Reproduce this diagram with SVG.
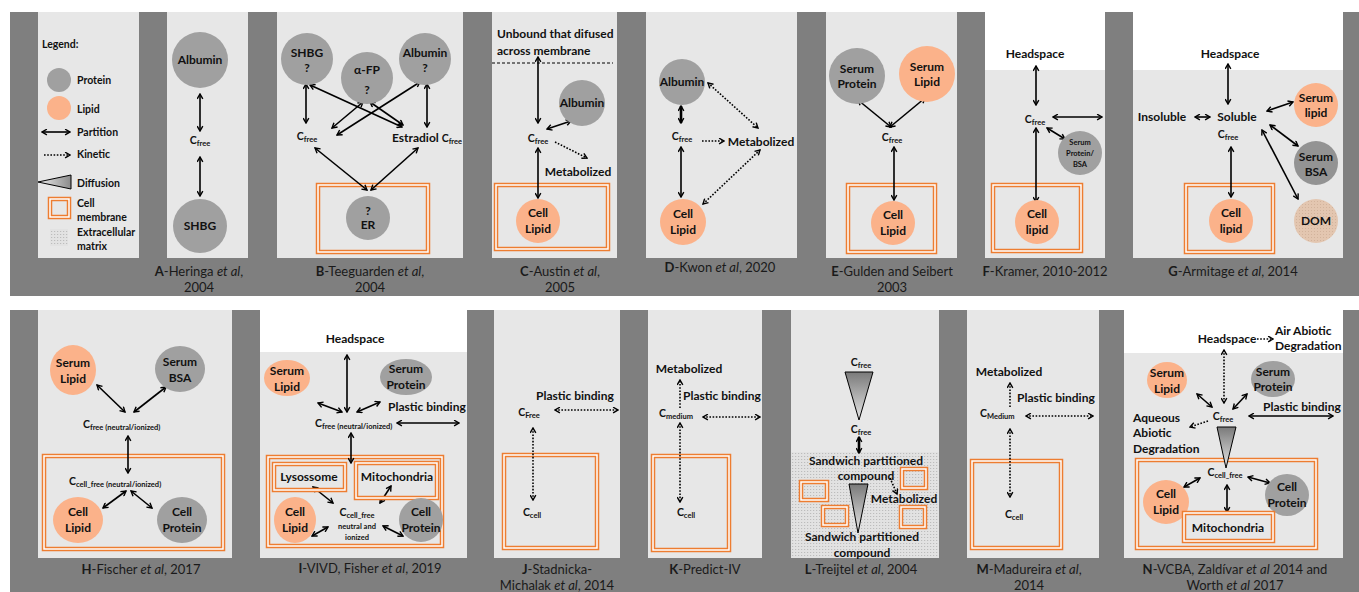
<svg xmlns="http://www.w3.org/2000/svg" width="1359" height="592" viewBox="0 0 1359 592">
<style>
.bg{fill:#7f7f7f}
.pn{fill:#e7e7e7}
.ws{fill:#fff}
.pr{fill:#a0a0a0}
.pd{fill:#939393}
.li{fill:#fbb28a}
.mo{fill:none;stroke:#ed7d31;stroke-width:4.5}
.mi{fill:none;stroke:#fff;stroke-width:1.5}
.a{stroke:#000;stroke-width:1.6;fill:none;marker-start:url(#ah);marker-end:url(#ah)}
.a1{stroke:#000;stroke-width:1.6;fill:none;marker-end:url(#ah)}
.d{stroke-dasharray:1.6 1.6}
.tk{stroke-width:2.6}
text{font-family:Lato,"Liberation Sans",sans-serif}
.t{font-weight:bold;font-size:12px;fill:#111;text-anchor:middle}
.sm{font-size:7.5px}
.lg{font-weight:bold;font-size:10.5px;fill:#111}
.cap{font-size:13px;fill:#1a1a1a;text-anchor:middle}
.c{font-weight:bold;font-size:10.5px;fill:#111;text-anchor:middle}
.sub{font-size:7.5px}
.s{text-anchor:start}
.tri{stroke:#000;stroke-width:1}
</style>
<defs>
<marker id="ah" viewBox="0 0 10 10" refX="8.5" refY="5" markerWidth="7" markerHeight="7" markerUnits="userSpaceOnUse" orient="auto-start-reverse">
<path d="M1.5,1 L8.5,5 L1.5,9" fill="none" stroke="#000" stroke-width="2"/>
</marker>
<linearGradient id="gv" x1="0" y1="0" x2="0" y2="1"><stop offset="0" stop-color="#7a7a7a"/><stop offset="1" stop-color="#e6e6e6"/></linearGradient>
<linearGradient id="gh" x1="1" y1="0" x2="0" y2="0"><stop offset="0" stop-color="#8a8a8a"/><stop offset="1" stop-color="#eeeeee"/></linearGradient>
<pattern id="ecm" width="3" height="3" patternUnits="userSpaceOnUse"><rect width="3" height="3" fill="#e2e2e2"/><rect width="1.2" height="1" fill="#bcbcbc"/></pattern>
<pattern id="dom" width="3" height="3" patternUnits="userSpaceOnUse"><rect width="3" height="3" fill="#e3c6b0"/><rect width="1" height="1" fill="#d2b39c"/></pattern>
</defs>

<g id="backgrounds">
<rect class="bg" x="10" y="12" width="1349" height="284"/>
<rect class="bg" x="10" y="310" width="1349" height="282"/>
<rect class="pn" x="38" y="12" width="101" height="246"/>
<rect class="pn" x="167" y="12" width="81" height="246"/>
<rect class="pn" x="277" y="12" width="186" height="246"/>
<rect class="pn" x="492" y="12" width="125" height="246"/>
<rect class="pn" x="646" y="12" width="151" height="246"/>
<rect class="pn" x="826" y="12" width="131" height="246"/>
<rect class="pn" x="985" y="12" width="120" height="246"/>
<rect class="ws" x="985" y="12" width="120" height="58"/>
<rect class="pn" x="1133" y="12" width="210" height="246"/>
<rect class="ws" x="1133" y="12" width="210" height="58"/>
<rect class="pn" x="38" y="310" width="194" height="248"/>
<rect class="pn" x="260" y="310" width="207" height="248"/>
<rect class="ws" x="260" y="310" width="207" height="42"/>
<rect class="pn" x="494" y="310" width="126" height="248"/>
<rect class="pn" x="648" y="310" width="114" height="248"/>
<rect class="pn" x="791" y="310" width="148" height="248"/>
<rect x="791" y="452" width="148" height="106" fill="url(#ecm)"/>
<rect class="pn" x="967" y="310" width="132" height="248"/>
<rect class="pn" x="1124" y="310" width="219" height="248"/>
<rect class="ws" x="1124" y="310" width="219" height="43"/>
</g>

<g id="legend">
<text class="lg" x="42" y="48">Legend:</text>
<circle class="pr" cx="59" cy="80" r="12"/><text class="lg" x="77" y="84">Protein</text>
<circle class="li" cx="59" cy="108" r="12"/><text class="lg" x="77" y="113">Lipid</text>
<line class="a" x1="42" y1="132" x2="70" y2="132"/><text class="lg" x="77" y="136">Partition</text>
<line class="a1 d" x1="44" y1="155" x2="70" y2="155"/><text class="lg" x="77" y="158">Kinetic</text>
<polygon class="tri" points="38,182 71,175 71,189" fill="url(#gh)"/><text class="lg" x="77" y="187">Diffusion</text>
<rect class="mo" x="50" y="199" width="19" height="18"/><rect class="mi" x="50" y="199" width="19" height="18"/>
<text class="lg" x="77" y="207">Cell</text><text class="lg" x="77" y="221">membrane</text>
<rect x="50" y="229" width="18" height="17" fill="url(#ecm)"/>
<text class="lg" x="77" y="236">Extracellular</text><text class="lg" x="77" y="250">matrix</text>
</g>

<g id="membranes">
<rect class="mo" x="318" y="185" width="110" height="67"/><rect class="mi" x="318" y="185" width="110" height="67"/>
<rect class="mo" x="496" y="185" width="112" height="64"/><rect class="mi" x="496" y="185" width="112" height="64"/>
<rect class="mo" x="848" y="185" width="87" height="67"/><rect class="mi" x="848" y="185" width="87" height="67"/>
<rect class="mo" x="993" y="185" width="88" height="66"/><rect class="mi" x="993" y="185" width="88" height="66"/>
<rect class="mo" x="1186" y="185" width="87" height="67"/><rect class="mi" x="1186" y="185" width="87" height="67"/>
<rect class="mo" x="44" y="456" width="179" height="93"/><rect class="mi" x="44" y="456" width="179" height="93"/>
<rect class="mo" x="268" y="457" width="174" height="89"/><rect class="mi" x="268" y="457" width="174" height="89"/>
<rect class="mo" x="504" y="455" width="93" height="93"/><rect class="mi" x="504" y="455" width="93" height="93"/>
<rect class="mo" x="653" y="456" width="76" height="94"/><rect class="mi" x="653" y="456" width="76" height="94"/>
<rect class="mo" x="801" y="482" width="26" height="18"/><rect class="mi" x="801" y="482" width="26" height="18"/>
<rect class="mo" x="823" y="507" width="24" height="18"/><rect class="mi" x="823" y="507" width="24" height="18"/>
<rect class="mo" x="902" y="469" width="24" height="19"/><rect class="mi" x="902" y="469" width="24" height="19"/>
<rect class="mo" x="901" y="507" width="24" height="20"/><rect class="mi" x="901" y="507" width="24" height="20"/>
<rect class="mo" x="972" y="461" width="89" height="87"/><rect class="mi" x="972" y="461" width="89" height="87"/>
<rect class="mo" x="1137" y="460" width="179" height="88"/><rect class="mi" x="1137" y="460" width="179" height="88"/>
</g>

<g id="connectors">
<line class="a" x1="200" y1="94" x2="200" y2="131"/>
<line class="a" x1="200" y1="157" x2="200" y2="196"/>
<line class="a" x1="306" y1="84" x2="306" y2="123"/>
<line class="a" x1="310" y1="85" x2="402" y2="127"/>
<line class="a" x1="363" y1="102" x2="332" y2="128"/>
<line class="a" x1="420" y1="82" x2="337" y2="135"/>
<line class="a" x1="370" y1="102" x2="403" y2="125"/>
<line class="a" x1="427" y1="84" x2="427" y2="127"/>
<line class="a" x1="315" y1="148" x2="367" y2="190"/>
<line class="a" x1="418" y1="148" x2="371" y2="190"/>
<line stroke="#000" stroke-width="1" stroke-dasharray="3 2" x1="492" y1="63" x2="613" y2="63"/>
<line class="a" x1="538" y1="57" x2="538" y2="123"/>
<line class="a" x1="547" y1="129" x2="571" y2="121"/>
<line class="a1 d" x1="555" y1="142" x2="587" y2="158"/>
<line class="a" x1="538" y1="148" x2="538" y2="198"/>
<line class="a tk" x1="681" y1="106" x2="681" y2="123"/>
<line class="a d" x1="708" y1="83" x2="758" y2="128"/>
<line class="a1 d" x1="702" y1="141" x2="724" y2="141"/>
<line class="a d" x1="760" y1="150" x2="703" y2="204"/>
<line class="a" x1="681" y1="147" x2="681" y2="197"/>
<line class="a" x1="858" y1="100" x2="891" y2="127"/>
<line class="a" x1="925" y1="98" x2="890" y2="127"/>
<line class="a" x1="894" y1="147" x2="894" y2="200"/>
<line class="a" x1="1036" y1="66" x2="1036" y2="105"/>
<line class="a" x1="1053" y1="117" x2="1102" y2="117"/>
<line class="a" x1="1047" y1="128" x2="1065" y2="139"/>
<line class="a" x1="1036" y1="128" x2="1036" y2="202"/>
<line class="a" x1="1228" y1="64" x2="1228" y2="104"/>
<line class="a" x1="1195" y1="117" x2="1210" y2="117"/>
<line class="a" x1="1267" y1="111" x2="1293" y2="102"/>
<line class="a" x1="1270" y1="125" x2="1298" y2="146"/>
<line class="a" x1="1262" y1="130" x2="1298" y2="199"/>
<line class="a" x1="1231" y1="147" x2="1231" y2="197"/>
<line class="a" x1="97" y1="385" x2="125" y2="412"/>
<line class="a" x1="166" y1="387" x2="134" y2="412"/>
<line class="a" x1="128" y1="436" x2="128" y2="473"/>
<line class="a" x1="126" y1="491" x2="103" y2="508"/>
<line class="a" x1="131" y1="491" x2="152" y2="508"/>
<line class="a" x1="347" y1="355" x2="347" y2="412"/>
<line class="a" x1="318" y1="403" x2="342" y2="412"/>
<line class="a" x1="380" y1="402" x2="357" y2="412"/>
<line class="a" x1="397" y1="423" x2="459" y2="423"/>
<line class="a" x1="351" y1="433" x2="351" y2="463"/>
<line class="a" x1="313" y1="487" x2="333" y2="503"/>
<line class="a" x1="391" y1="486" x2="380" y2="503"/>
<line class="a" x1="312" y1="536" x2="328" y2="527"/>
<line class="a" x1="383" y1="526" x2="403" y2="536"/>
<line class="a d" x1="555" y1="410" x2="618" y2="410"/>
<line class="a d" x1="533" y1="428" x2="533" y2="500"/>
<line class="a1 d" x1="680" y1="408" x2="680" y2="380"/>
<line class="a d" x1="703" y1="417" x2="760" y2="417"/>
<line class="a d" x1="680" y1="423" x2="680" y2="502"/>
<line class="a tk" x1="859" y1="437" x2="859" y2="453"/>
<line class="a1 d" x1="890" y1="478" x2="897" y2="494"/>
<line class="a1 d" x1="1010" y1="407" x2="1010" y2="383"/>
<line class="a d" x1="1026" y1="416" x2="1093" y2="416"/>
<line class="a d" x1="1010" y1="429" x2="1010" y2="497"/>
<line class="a1 d" x1="1257" y1="339" x2="1273" y2="339"/>
<line class="a d" x1="1224" y1="350" x2="1224" y2="403"/>
<line class="a" x1="1197" y1="394" x2="1212" y2="407"/>
<line class="a" x1="1247" y1="394" x2="1233" y2="409"/>
<line class="a" x1="1249" y1="416" x2="1333" y2="416"/>
<line class="a1 d" x1="1208" y1="421" x2="1190" y2="427"/>
<line class="a" x1="1200" y1="478" x2="1184" y2="487"/>
<line class="a" x1="1248" y1="477" x2="1270" y2="483"/>
<line class="a" x1="1227" y1="485" x2="1227" y2="512"/>
</g>

<g id="A-albumin"><circle class="pr" cx="200" cy="60" r="28"/><text class="t" x="200" y="64">Albumin</text></g>
<g id="A-cfree"><text class="c" x="200" y="144">C<tspan class="sub" dy="2">free</tspan></text></g>
<g id="A-shbg"><circle class="pr" cx="200" cy="226" r="27"/><text class="t" x="200" y="230">SHBG</text></g>

<g id="B-shbg"><circle class="pr" cx="307" cy="59" r="26"/><text class="t" x="307" y="57">SHBG</text><text class="t" x="307" y="72">?</text></g>
<g id="B-afp"><circle class="pr" cx="367" cy="78" r="26"/><text class="t" x="367" y="74">α-FP</text><text class="t" x="367" y="94">?</text></g>
<g id="B-albumin"><circle class="pr" cx="425" cy="59" r="26"/><text class="t" x="425" y="57">Albumin</text><text class="t" x="425" y="72">?</text></g>
<g id="B-cfree"><text class="c" x="307" y="140">C<tspan class="sub" dy="2">free</tspan></text></g>
<g id="B-estradiol"><text class="t s" x="392" y="142">Estradiol <tspan font-size="10.5">C</tspan><tspan class="sub" dy="2">free</tspan></text></g>
<g id="B-er"><circle class="pr" cx="368" cy="218" r="22"/><text class="t" x="368" y="215">?</text><text class="t" x="368" y="229">ER</text></g>

<g id="C-unbound"><text class="t s" x="497" y="38">Unbound that difused</text><text class="t s" x="497" y="55">across membrane</text></g>
<g id="C-albumin"><circle class="pr" cx="582" cy="103" r="23"/><text class="t" x="582" y="107">Albumin</text></g>
<g id="C-cfree"><text class="c" x="538" y="142">C<tspan class="sub" dy="2">free</tspan></text></g>
<g id="C-metabolized"><text class="t" x="578" y="176">Metabolized</text></g>
<g id="C-celllipid"><circle class="li" cx="538" cy="221" r="22"/><text class="t" x="538" y="217">Cell</text><text class="t" x="538" y="233">Lipid</text></g>

<g id="D-albumin"><circle class="pr" cx="682" cy="82" r="23"/><text class="t" x="682" y="86">Albumin</text></g>
<g id="D-cfree"><text class="c" x="682" y="140">C<tspan class="sub" dy="2">free</tspan></text></g>
<g id="D-metabolized"><text class="t" x="761" y="146">Metabolized</text></g>
<g id="D-celllipid"><circle class="li" cx="683" cy="222" r="23"/><text class="t" x="683" y="218">Cell</text><text class="t" x="683" y="234">Lipid</text></g>

<g id="E-serumprotein"><circle class="pr" cx="857" cy="76" r="28"/><text class="t" x="857" y="73">Serum</text><text class="t" x="857" y="88">Protein</text></g>
<g id="E-serumlipid"><circle class="li" cx="927" cy="74" r="28"/><text class="t" x="927" y="71">Serum</text><text class="t" x="927" y="86">Lipid</text></g>
<g id="E-cfree"><text class="c" x="892" y="141">C<tspan class="sub" dy="2">free</tspan></text></g>
<g id="E-celllipid"><circle class="li" cx="893" cy="223" r="22"/><text class="t" x="893" y="219">Cell</text><text class="t" x="893" y="235">Lipid</text></g>

<g id="F-headspace"><text class="t" x="1035" y="58">Headspace</text></g>
<g id="F-cfree"><text class="c" x="1035" y="123">C<tspan class="sub" dy="2">free</tspan></text></g>
<g id="F-serumbsa"><circle class="pr" cx="1080" cy="153" r="22"/><text class="t sm" x="1080" y="145">Serum</text><text class="t sm" x="1080" y="156">Protein/</text><text class="t sm" x="1080" y="167">BSA</text></g>
<g id="F-celllipid"><circle class="li" cx="1037" cy="222" r="22"/><text class="t" x="1037" y="218">Cell</text><text class="t" x="1037" y="234">lipid</text></g>

<g id="G-headspace"><text class="t" x="1230" y="58">Headspace</text></g>
<g id="G-insoluble"><text class="t" x="1162" y="121">Insoluble</text></g>
<g id="G-soluble"><text class="t" x="1237" y="121">Soluble</text><text class="c" x="1228" y="138">C<tspan class="sub" dy="2">free</tspan></text></g>
<g id="G-serumlipid"><circle class="li" cx="1316" cy="105" r="22"/><text class="t" x="1316" y="102">Serum</text><text class="t" x="1316" y="117">lipid</text></g>
<g id="G-serumbsa"><circle class="pd" cx="1316" cy="163" r="22"/><text class="t" x="1316" y="161">Serum</text><text class="t" x="1316" y="176">BSA</text></g>
<g id="G-dom"><circle cx="1316" cy="221" r="22" fill="url(#dom)"/><text class="t" x="1316" y="225">DOM</text></g>
<g id="G-celllipid"><circle class="li" cx="1231" cy="221" r="22"/><text class="t" x="1231" y="217">Cell</text><text class="t" x="1231" y="233">lipid</text></g>

<g id="H-serumlipid"><ellipse class="li" cx="73" cy="370" rx="23" ry="25"/><text class="t" x="73" y="367">Serum</text><text class="t" x="73" y="383">Lipid</text></g>
<g id="H-serumbsa"><ellipse class="pr" cx="180" cy="369" rx="25" ry="23"/><text class="t" x="180" y="366">Serum</text><text class="t" x="180" y="382">BSA</text></g>
<g id="H-cfree"><text class="c s" x="83" y="428">C<tspan class="sub" dy="2">free (neutral/ionized)</tspan></text></g>
<g id="H-ccellfree"><text class="c s" x="69" y="485">C<tspan class="sub" dy="2">cell_free (neutral/ionized)</tspan></text></g>
<g id="H-celllipid"><ellipse class="li" cx="78" cy="520" rx="25" ry="23"/><text class="t" x="78" y="516">Cell</text><text class="t" x="78" y="532">Lipid</text></g>
<g id="H-cellprotein"><ellipse class="pr" cx="182" cy="520" rx="25" ry="23"/><text class="t" x="182" y="516">Cell</text><text class="t" x="182" y="532">Protein</text></g>

<g id="I-headspace"><text class="t" x="355" y="343">Headspace</text></g>
<g id="I-serumlipid"><ellipse class="li" cx="287" cy="378" rx="23" ry="18"/><text class="t" x="287" y="375">Serum</text><text class="t" x="287" y="391">Lipid</text></g>
<g id="I-serumprotein"><ellipse class="pr" cx="406" cy="377" rx="26" ry="18"/><text class="t" x="406" y="373">Serum</text><text class="t" x="406" y="389">Protein</text></g>
<g id="I-plastic"><text class="t s" x="388" y="411">Plastic binding</text></g>
<g id="I-cfree"><text class="c s" x="315" y="427">C<tspan class="sub" dy="2">free (neutral/ionized)</tspan></text></g>
<g id="I-lysosome"><rect class="mo" x="274" y="464" width="71" height="26"/><rect class="mi" x="274" y="464" width="71" height="26"/><text class="t" x="309" y="481">Lysossome</text></g>
<g id="I-mito"><rect class="mo" x="356" y="463" width="81" height="35"/><rect class="mi" x="356" y="463" width="81" height="35"/><text class="t" x="397" y="481">Mitochondria</text></g>
<g id="I-ccellfree"><text class="c" x="357" y="516">C<tspan class="sub" dy="2">cell_free</tspan></text><text class="t sm" x="357" y="529">neutral and</text><text class="t sm" x="357" y="540">ionized</text></g>
<g id="I-celllipid"><ellipse class="li" cx="295" cy="520" rx="21" ry="23"/><text class="t" x="295" y="516">Cell</text><text class="t" x="295" y="532">Lipid</text></g>
<g id="I-cellprotein"><ellipse class="pr" cx="421" cy="520" rx="22" ry="22"/><text class="t" x="421" y="516">Cell</text><text class="t" x="421" y="532">Protein</text></g>

<g id="J-plastic"><text class="t s" x="536" y="400">Plastic binding</text></g>
<g id="J-cfree"><text class="c" x="529" y="416">C<tspan class="sub" dy="2">Free</tspan></text></g>
<g id="J-ccell"><text class="c" x="532" y="516">C<tspan class="sub" dy="2">cell</tspan></text></g>

<g id="K-metabolized"><text class="t" x="689" y="373">Metabolized</text></g>
<g id="K-plastic"><text class="t s" x="683" y="400">Plastic binding</text></g>
<g id="K-cmedium"><text class="c s" x="659" y="417">C<tspan class="sub" dy="2">medium</tspan></text></g>
<g id="K-ccell"><text class="c" x="686" y="516">C<tspan class="sub" dy="2">cell</tspan></text></g>

<g id="L-cfree1"><text class="c" x="861" y="366">C<tspan class="sub" dy="2">free</tspan></text></g>
<g id="L-diff1"><polygon class="tri" points="845,372 873,372 859,420" fill="url(#gv)"/></g>
<g id="L-cfree2"><text class="c" x="861" y="433">C<tspan class="sub" dy="2">free</tspan></text></g>
<g id="L-sandwich1"><text class="t" x="866" y="465">Sandwich partitioned</text><text class="t" x="866" y="480">compound</text></g>
<g id="L-diff2"><polygon class="tri" points="849,484 868,484 858,533" fill="url(#gv)"/></g>
<g id="L-metabolized"><text class="t" x="904" y="503">Metabolized</text></g>
<g id="L-sandwich2"><text class="t" x="862" y="541">Sandwich partitioned</text><text class="t" x="862" y="557">compound</text></g>

<g id="M-metabolized"><text class="t" x="1009" y="376">Metabolized</text></g>
<g id="M-plastic"><text class="t s" x="1017" y="402">Plastic binding</text></g>
<g id="M-cmedium"><text class="c s" x="980" y="417">C<tspan class="sub" dy="2">Medium</tspan></text></g>
<g id="M-ccell"><text class="c" x="1014" y="518">C<tspan class="sub" dy="2">cell</tspan></text></g>

<g id="N-headspace"><text class="t" x="1227" y="343">Headspace</text></g>
<g id="N-air"><text class="t s" x="1275" y="335">Air Abiotic</text><text class="t s" x="1275" y="350">Degradation</text></g>
<g id="N-serumlipid"><ellipse class="li" cx="1167" cy="380" rx="20" ry="18"/><text class="t" x="1167" y="377">Serum</text><text class="t" x="1167" y="393">Lipid</text></g>
<g id="N-serumprotein"><ellipse class="pr" cx="1273" cy="379" rx="22" ry="18"/><text class="t" x="1273" y="376">Serum</text><text class="t" x="1273" y="391">Protein</text></g>
<g id="N-cfree"><text class="c" x="1223" y="420">C<tspan class="sub" dy="2">free</tspan></text></g>
<g id="N-plastic"><text class="t s" x="1263" y="411">Plastic binding</text></g>
<g id="N-aqueous"><text class="t s" x="1133" y="422">Aqueous</text><text class="t s" x="1133" y="437">Abiotic</text><text class="t s" x="1133" y="453">Degradation</text></g>
<g id="N-diff"><polygon class="tri" points="1217,427 1236,427 1226,468" fill="url(#gv)"/></g>
<g id="N-ccellfree"><text class="c" x="1225" y="476">C<tspan class="sub" dy="2">cell_free</tspan></text></g>
<g id="N-celllipid"><ellipse class="li" cx="1166" cy="502" rx="23" ry="22"/><text class="t" x="1166" y="498">Cell</text><text class="t" x="1166" y="514">Lipid</text></g>
<g id="N-cellprotein"><ellipse class="pr" cx="1287" cy="495" rx="22" ry="21"/><text class="t" x="1287" y="491">Cell</text><text class="t" x="1287" y="507">Protein</text></g>
<g id="N-mito"><rect class="mo" x="1184" y="513" width="89" height="28"/><rect class="mi" x="1184" y="513" width="89" height="28"/><text class="t" x="1228" y="532">Mitochondria</text></g>

<g id="captions">
<text class="cap" x="199" y="276"><tspan font-weight="bold">A</tspan>-Heringa <tspan font-style="italic">et al</tspan>,</text>
<text class="cap" x="199" y="292">2004</text>
<text class="cap" x="370" y="276"><tspan font-weight="bold">B</tspan>-Teeguarden <tspan font-style="italic">et al</tspan>,</text>
<text class="cap" x="370" y="292">2004</text>
<text class="cap" x="560" y="276"><tspan font-weight="bold">C</tspan>-Austin <tspan font-style="italic">et al</tspan>,</text>
<text class="cap" x="560" y="292">2005</text>
<text class="cap" x="720" y="272"><tspan font-weight="bold">D</tspan>-Kwon <tspan font-style="italic">et al</tspan>, 2020</text>
<text class="cap" x="892" y="276"><tspan font-weight="bold">E</tspan>-Gulden and Seibert</text>
<text class="cap" x="892" y="292">2003</text>
<text class="cap" x="1045" y="276"><tspan font-weight="bold">F</tspan>-Kramer, 2010-2012</text>
<text class="cap" x="1233" y="276"><tspan font-weight="bold">G</tspan>-Armitage <tspan font-style="italic">et al</tspan>, 2014</text>
<text class="cap" x="141" y="574"><tspan font-weight="bold">H</tspan>-Fischer <tspan font-style="italic">et al</tspan>, 2017</text>
<text class="cap" x="370" y="573"><tspan font-weight="bold">I</tspan>-VIVD, Fisher <tspan font-style="italic">et al</tspan>, 2019</text>
<text class="cap" x="557" y="574"><tspan font-weight="bold">J</tspan>-Stadnicka-</text>
<text class="cap" x="557" y="590">Michalak <tspan font-style="italic">et al</tspan>, 2014</text>
<text class="cap" x="705" y="574"><tspan font-weight="bold">K</tspan>-Predict-IV</text>
<text class="cap" x="861" y="574"><tspan font-weight="bold">L</tspan>-Treijtel <tspan font-style="italic">et al</tspan>, 2004</text>
<text class="cap" x="1029" y="574"><tspan font-weight="bold">M</tspan>-Madureira <tspan font-style="italic">et al</tspan>,</text>
<text class="cap" x="1029" y="590">2014</text>
<text class="cap" x="1235" y="574"><tspan font-weight="bold">N</tspan>-VCBA, Zaldívar <tspan font-style="italic">et al</tspan> 2014 and</text>
<text class="cap" x="1235" y="590">Worth <tspan font-style="italic">et al</tspan> 2017</text>
</g>
</svg>
